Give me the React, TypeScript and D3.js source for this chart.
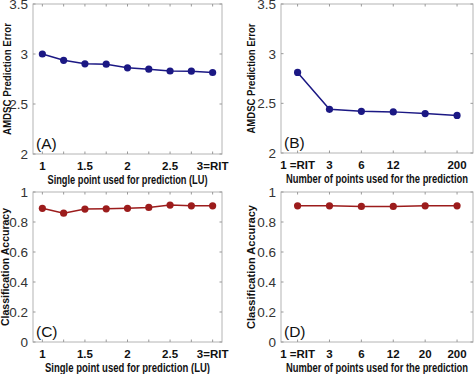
import * as d3 from "d3";

// x values for the single-point panels (A, C)
const singlePointX = [1, 1.25, 1.5, 1.75, 2, 2.25, 2.5, 2.75, 3];
const singlePointTicks = [1, 1.5, 2, 2.5, 3];
const singlePointTickLabels = ["1", "1.5", "2", "2.5", "3=RIT"];

// x positions (index) for the number-of-points panels (B, D)
const numPointsX = [1, 2, 3, 4, 5, 6];
const numPointsLabelsB = ["1 =RIT", "3", "6", "12", "", "200"];
const numPointsLabelsD = ["1 =RIT", "3", "6", "12", "20", "200"];

const errorA = [3.0, 2.937, 2.902, 2.898, 2.862, 2.848, 2.83, 2.828, 2.815];
const errorB = [2.811, 2.44, 2.42, 2.414, 2.397, 2.378];
const accC = [0.891, 0.859, 0.886, 0.888, 0.891, 0.897, 0.913, 0.908, 0.908];
const accD = [0.908, 0.908, 0.904, 0.904, 0.908, 0.908];

const errorTicks = [2, 2.5, 3, 3.5];
const accTicks = [0, 0.2, 0.4, 0.6, 0.8, 1];

const BLUE = "#1b1884";
const RED = "#9c1c1c";
const FONT = "'Liberation Sans', Arial, sans-serif";

type PanelProps = {
  box: { left: number; right: number; top: number; bottom: number };
  xDomain: [number, number];
  xs: number[];
  ys: number[];
  xTicks: number[];
  xTickLabels: string[];
  xMinorTicks: number[];
  yDomain: [number, number];
  yTicks: number[];
  color: string;
  letter: string;
  yTitle: string;
  yTitleX: number;
  yTitleLen: number;
  xTitle: string;
  xTitleLen: number;
};

function Panel(p: PanelProps) {
  const { box } = p;
  const x = d3.scaleLinear().domain(p.xDomain).range([box.left, box.right]);
  const y = d3.scaleLinear().domain(p.yDomain).range([box.bottom, box.top]);
  const pts = p.xs.map((v, i) => [v, p.ys[i]] as [number, number]);
  const line = d3
    .line<[number, number]>()
    .x((d) => x(d[0]))
    .y((d) => y(d[1]));
  const midY = (box.top + box.bottom) / 2;
  const midX = (box.left + box.right) / 2;

  return (
    <g>
      <rect
        x={box.left}
        y={box.top}
        width={box.right - box.left}
        height={box.bottom - box.top}
        fill="none"
        stroke="#b4b4b4"
        strokeWidth={1}
      />
      {p.xMinorTicks.map((t, i) => (
        <g key={"xt" + i}>
          <line x1={x(t)} x2={x(t)} y1={box.bottom} y2={box.bottom - 2.5} stroke="#999" />
          <line x1={x(t)} x2={x(t)} y1={box.top} y2={box.top + 2.5} stroke="#999" />
        </g>
      ))}
      {p.yTicks.map((t, i) => (
        <g key={"yt" + i}>
          <line x1={box.left} x2={box.left + 2.5} y1={y(t)} y2={y(t)} stroke="#999" />
          <line x1={box.right} x2={box.right - 2.5} y1={y(t)} y2={y(t)} stroke="#999" />
          <text
            x={box.left - 5}
            y={y(t)}
            dy="0.36em"
            textAnchor="end"
            fontSize={13.5}
            fill="#333"
            fontFamily={FONT}
          >
            {t}
          </text>
        </g>
      ))}
      {p.xTicks.map((t, i) => (
        <text
          key={"xl" + i}
          x={x(t)}
          y={box.bottom + 16}
          textAnchor="middle"
          fontSize={11.5}
          fontWeight="bold"
          fill="#111"
          fontFamily={FONT}
        >
          {p.xTickLabels[i]}
        </text>
      ))}
      <text
        x={midX}
        y={box.bottom + 30}
        textAnchor="middle"
        fontSize={12}
        fontWeight="bold"
        fill="#111"
        fontFamily={FONT}
        textLength={p.xTitleLen}
        lengthAdjust="spacingAndGlyphs"
      >
        {p.xTitle}
      </text>
      <text
        transform={`translate(${p.yTitleX},${midY}) rotate(-90)`}
        textAnchor="middle"
        fontSize={11.5}
        fontWeight="bold"
        fill="#111"
        fontFamily={FONT}
        textLength={p.yTitleLen}
        lengthAdjust="spacingAndGlyphs"
      >
        {p.yTitle}
      </text>
      <text
        x={box.left + 3}
        y={box.bottom - 5}
        fontSize={15.5}
        fill="#111"
        fontFamily={FONT}
      >
        {p.letter}
      </text>
      <path d={line(pts) ?? ""} fill="none" stroke={p.color} strokeWidth={1.5} />
      {pts.map((d, i) => (
        <circle key={"c" + i} cx={x(d[0])} cy={y(d[1])} r={3.6} fill={p.color} />
      ))}
    </g>
  );
}

export default function App() {
  return (
    <svg
      width={474}
      height={374}
      style={{ position: "absolute", left: 0, top: 0, background: "#fff" }}
    >
      <Panel
        box={{ left: 33, right: 222, top: 4, bottom: 154 }}
        xDomain={[0.89, 3.11]}
        xs={singlePointX}
        ys={errorA}
        xTicks={singlePointTicks}
        xTickLabels={singlePointTickLabels}
        xMinorTicks={singlePointX}
        yDomain={[2, 3.5]}
        yTicks={errorTicks}
        color={BLUE}
        letter="(A)"
        yTitle="AMDSC Prediction Error"
        yTitleX={11}
        yTitleLen={112}
        xTitle="Single point used for prediction (LU)"
        xTitleLen={160}
      />
      <Panel
        box={{ left: 281, right: 473, top: 4, bottom: 153 }}
        xDomain={[0.48, 6.5]}
        xs={numPointsX}
        ys={errorB}
        xTicks={numPointsX}
        xTickLabels={numPointsLabelsB}
        xMinorTicks={numPointsX}
        yDomain={[2, 3.5]}
        yTicks={errorTicks}
        color={BLUE}
        letter="(B)"
        yTitle="AMDSC Prediction Error"
        yTitleX={255}
        yTitleLen={110}
        xTitle="Number of points used for the prediction"
        xTitleLen={182}
      />
      <Panel
        box={{ left: 33, right: 222, top: 192, bottom: 342 }}
        xDomain={[0.89, 3.11]}
        xs={singlePointX}
        ys={accC}
        xTicks={singlePointTicks}
        xTickLabels={singlePointTickLabels}
        xMinorTicks={singlePointX}
        yDomain={[0, 1]}
        yTicks={accTicks}
        color={RED}
        letter="(C)"
        yTitle="Classification Accuracy"
        yTitleX={9}
        yTitleLen={118}
        xTitle="Single point used for prediction (LU)"
        xTitleLen={165}
      />
      <Panel
        box={{ left: 281, right: 473, top: 192, bottom: 342 }}
        xDomain={[0.48, 6.5]}
        xs={numPointsX}
        ys={accD}
        xTicks={numPointsX}
        xTickLabels={numPointsLabelsD}
        xMinorTicks={numPointsX}
        yDomain={[0, 1]}
        yTicks={accTicks}
        color={RED}
        letter="(D)"
        yTitle="Classification Accuracy"
        yTitleX={255}
        yTitleLen={124}
        xTitle="Number of points used for the prediction"
        xTitleLen={182}
      />
    </svg>
  );
}
